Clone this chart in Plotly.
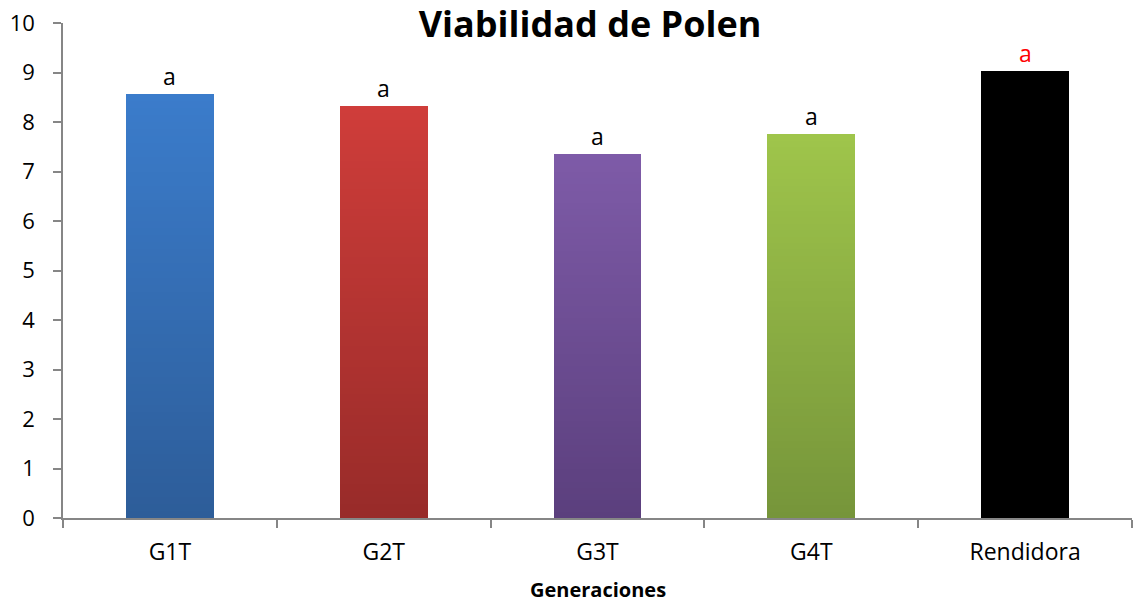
import plotly.graph_objects as go

categories = ["G1T", "G2T", "G3T", "G4T", "Rendidora"]
values = [8.57, 8.32, 7.35, 7.75, 9.04]
letters = ["a", "a", "a", "a", "a"]
letter_colors = ["#000000", "#000000", "#000000", "#000000", "#FF0000"]
top_colors = ["#3B7CCB", "#CF3D3A", "#7E5BA8", "#9FC54B", "#000000"]
bottom_colors = ["#2D5D99", "#982B29", "#5B3F7D", "#76953A", "#000000"]
y_ticks = [0, 1, 2, 3, 4, 5, 6, 7, 8, 9, 10]

FONT = "Open Sans"
N = 60


def hex_to_rgb(h):
    h = h.lstrip("#")
    return tuple(int(h[i:i + 2], 16) for i in (0, 2, 4))


def mix(c1, c2, t):
    a, b = hex_to_rgb(c1), hex_to_rgb(c2)
    return "rgb(%d,%d,%d)" % tuple(round(a[k] + (b[k] - a[k]) * t) for k in range(3))


fig = go.Figure()
# gradient bars: stacked slices from bottom (dark) to top (light)
for i in range(N):
    t = (i + 0.5) / N
    cols = [mix(bottom_colors[j], top_colors[j], t) for j in range(len(categories))]
    fig.add_trace(go.Bar(
        x=categories,
        y=[v / N for v in values],
        marker=dict(color=cols, line=dict(width=0)),
        width=0.41,
        showlegend=False,
        hoverinfo="skip",
    ))

for c, v, l, col in zip(categories, values, letters, letter_colors):
    fig.add_annotation(x=c, y=v, text=l, showarrow=False, yanchor="bottom", yshift=0,
                       font=dict(family=FONT, size=23, color=col))

fig.add_annotation(x=0.5, xref="paper", y=(517.7 - 589) / 495, yref="paper", text="<b>Generaciones</b>",
                   showarrow=False, yanchor="middle", borderpad=0,
                   font=dict(family=FONT, size=20, color="#000000"))

fig.update_layout(
    width=1134, height=604,
    barmode="stack", bargap=0,
    paper_bgcolor="white", plot_bgcolor="white",
    margin=dict(l=63, r=2, t=23, b=86),
    title=dict(text="<b>Viabilidad de Polen</b>", x=0.5203, xanchor="center",
               y=1 - 24 / 604, yanchor="middle",
               font=dict(family=FONT, size=36, color="#000000")),
    font=dict(family=FONT, size=22, color="#000000"),
    xaxis=dict(showline=True, linecolor="#868686", linewidth=1.5,
               ticks="outside", ticklen=8, tickcolor="#868686", tickwidth=1.5,
               tickson="boundaries", ticklabelstandoff=13, automargin=False,
               tickfont=dict(family=FONT, size=23, color="#000000"),
               showgrid=False, zeroline=False),
    yaxis=dict(range=[0, 10], tickvals=y_ticks, showline=True, linecolor="#868686", linewidth=1.5,
               ticks="outside", ticklen=8, tickcolor="#868686", tickwidth=1.5,
               ticklabelstandoff=14, automargin=False,
               tickfont=dict(family=FONT, size=22, color="#000000"),
               showgrid=False, zeroline=False),
)

fig.write_html("out.html", config={"displayModeBar": False},
               post_script="document.body.style.margin='0';document.body.style.overflow='hidden';")
